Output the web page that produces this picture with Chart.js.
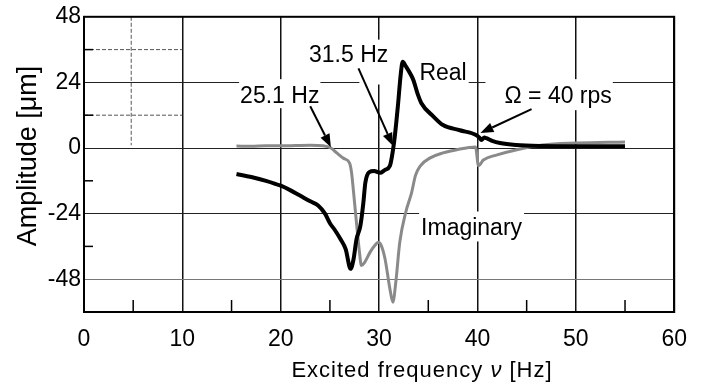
<!DOCTYPE html>
<html><head><meta charset="utf-8">
<script src="https://cdn.jsdelivr.net/npm/chart.js@4/dist/chart.umd.min.js"></script>
<style>html,body{margin:0;padding:0;background:#fff;}#wrap{width:701px;height:387px;}</style>
</head><body><div id="wrap"><canvas id="c" width="701" height="387"></canvas></div>
<script>
// ---- data ----
const realFreq = [15.5,17,18.5,20,21,22,23,23.8,24.5,25,25.5,26.1,26.6,27.1,27.4,27.7,28.1,28.4,28.6,29.0,29.5,30.1,30.6,31.1,31.4,31.6,31.9,32.2,32.4,32.7,33.2,33.5,33.9,34.3,35.5,36.5,38.2,39.9,40.2,40.4,40.7,40.9,41.5,42.3,43.9,46.6,50,55];
const realAmp  = [-9.5,-10.6,-12,-13.8,-15.5,-17.5,-19.5,-21,-24,-27.5,-30,-33.5,-37,-44.2,-40.7,-33.4,-28.4,-20,-12.7,-8.8,-8.4,-9.1,-8,-6.5,-1,4.4,15,27,31.6,30,27,24.7,20,16.4,11.6,8.4,6.5,4.7,3.8,2.9,3.8,3.6,2.6,1.8,1.1,0.7,0.6,0.6];
const imagFreq = [15.5,17,18.5,20,21.5,23,24.3,25.1,25.7,26.4,27.0,27.2,27.4,27.6,27.8,28.0,28.2,28.5,29.1,29.6,29.9,30.2,30.6,31.1,31.4,31.7,32.1,32.7,33.3,33.7,34.2,35.2,36.5,37.8,39.8,40.1,40.6,42,43.9,46.6,50,55];
const imagAmp  = [0.7,0.6,0.8,0.8,0.9,1.0,0.8,0,-1.8,-3.8,-5.5,-9,-16,-23.6,-31,-38,-43,-42,-38,-35.5,-34.5,-35.5,-40.5,-51.6,-56.4,-49,-34.5,-23.6,-16.4,-10,-6.5,-3.6,-1.8,-0.7,0.4,-6.5,-4.4,-2.5,-0.7,1.1,1.8,2.2];
const xTickValues = [0,10,20,30,40,50,60];
const yTickValues = [48,24,0,-24,-48];
const xMinorTicks = [5,15,25,35,45,55];
const yMinorTicks = [36,12,-12,-36];
const labelTexts = ['25.1 Hz','31.5 Hz','Real','\u03A9 = 40 rps','Imaginary'];
const xTitleParts = ['Excited frequency ', '\u03BD', ' [Hz]'];
const yTitleText = 'Amplitude [\u03BCm]';

// ---- layout of annotations (data coords for anchor) ----
const FONT = "'Liberation Sans', Arial, sans-serif";
const labelLayout = [
  {x:19.9, y:16.4, padL:1, padR:1, padT:8, padB:5},
  {x:26.9, y:31.6, padL:2, padR:2, padT:6, padB:5},
  {x:36.5, y:24.7, padL:60, padR:2, padT:6, padB:4},
  {x:48.2, y:16.4, padL:19, padR:1, padT:8, padB:7},
  {x:39.4, y:-32,  padL:2, padR:2, padT:8, padB:6}
];
const arrowLayout = [
  {x1:23.0, y1:15.3, x2:25.1, y2:0.3},
  {x1:27.9, y1:29.1, x2:31.4, y2:0.8},
  {x1:45.5, y1:14.2, x2:40.3, y2:5.5}
];
const dashedGuides = [
  {x1:0, y1:36, x2:10, y2:36},
  {x1:0, y1:12, x2:10, y2:12},
  {x1:4.8, y1:48, x2:4.8, y2:1}
];

const pts = (xs, ys) => xs.map((x,i)=>({x:x, y:ys[i]}));

const decor = {
  id:'decor',
  beforeDatasetsDraw(chart){
    const ctx = chart.ctx, xs = chart.scales.x, ys = chart.scales.y, a = chart.chartArea;
    ctx.save();
    ctx.strokeStyle = '#555'; ctx.lineWidth = 1; ctx.setLineDash([4,2]);
    dashedGuides.forEach(g=>{
      ctx.beginPath();
      ctx.moveTo(xs.getPixelForValue(g.x1), ys.getPixelForValue(g.y1));
      ctx.lineTo(xs.getPixelForValue(g.x2), ys.getPixelForValue(g.y2));
      ctx.stroke();
    });
    ctx.setLineDash([]);
    ctx.strokeStyle = '#000'; ctx.lineWidth = 1.5;
    xMinorTicks.forEach(v=>{
      const px = xs.getPixelForValue(v);
      ctx.beginPath(); ctx.moveTo(px, a.bottom); ctx.lineTo(px, a.bottom-12); ctx.stroke();
    });
    yMinorTicks.forEach(v=>{
      const py = ys.getPixelForValue(v);
      ctx.beginPath(); ctx.moveTo(a.left, py); ctx.lineTo(a.left+9, py); ctx.stroke();
    });
    ctx.font = '23px ' + FONT;
    const capH = 16;
    labelTexts.forEach((t,i)=>{
      const L = labelLayout[i];
      const w = ctx.measureText(t).width;
      const cx = xs.getPixelForValue(L.x), by = ys.getPixelForValue(L.y);
      ctx.fillStyle = '#fff';
      ctx.fillRect(cx - w/2 - L.padL, by - capH - L.padT, w + L.padL + L.padR, capH + L.padT + L.padB);
    });
    ctx.restore();
  },
  afterDatasetsDraw(chart){
    const ctx = chart.ctx, xs = chart.scales.x, ys = chart.scales.y, a = chart.chartArea;
    ctx.save();
    ctx.strokeStyle = '#000'; ctx.lineWidth = 2;
    ctx.strokeRect(a.left, a.top, a.right-a.left, a.bottom-a.top);
    ctx.font = '23px ' + FONT; ctx.fillStyle = '#000';
    ctx.textAlign = 'center'; ctx.textBaseline = 'alphabetic';
    labelTexts.forEach((t,i)=>{
      const L = labelLayout[i];
      ctx.fillText(t, xs.getPixelForValue(L.x), ys.getPixelForValue(L.y));
    });
    ctx.strokeStyle = '#000'; ctx.fillStyle = '#000'; ctx.lineWidth = 2;
    arrowLayout.forEach(r=>{
      const x1 = xs.getPixelForValue(r.x1), y1 = ys.getPixelForValue(r.y1);
      const x2 = xs.getPixelForValue(r.x2), y2 = ys.getPixelForValue(r.y2);
      const ang = Math.atan2(y2-y1, x2-x1), hl = 13, hw = 5;
      const bx = x2 - hl*Math.cos(ang), by = y2 - hl*Math.sin(ang);
      ctx.beginPath(); ctx.moveTo(x1,y1); ctx.lineTo(bx,by); ctx.stroke();
      ctx.beginPath();
      ctx.moveTo(x2,y2);
      ctx.lineTo(bx + hw*Math.sin(ang), by - hw*Math.cos(ang));
      ctx.lineTo(bx - hw*Math.sin(ang), by + hw*Math.cos(ang));
      ctx.closePath(); ctx.fill();
    });
    ctx.textAlign = 'left';
    ctx.letterSpacing = '1px';
    const fN = '22px ' + FONT, fI = 'italic 22px ' + FONT;
    const fonts = [fN, fI, fN];
    let total = 0;
    const widths = xTitleParts.map((p,i)=>{ctx.font = fonts[i]; const w = ctx.measureText(p).width; total += w; return w;});
    let tx = 422 - total/2;
    xTitleParts.forEach((p,i)=>{ctx.font = fonts[i]; ctx.fillText(p, tx, 377); tx += widths[i];});
    ctx.letterSpacing = '0px';
    ctx.font = '27px ' + FONT;
    ctx.translate(36, 156); ctx.rotate(-Math.PI/2);
    ctx.textAlign = 'center';
    ctx.fillText(yTitleText, 0, 0);
    ctx.restore();
  }
};

new Chart(document.getElementById('c'), {
  type:'line',
  data:{datasets:[
    {label:'Real', data:pts(realFreq, realAmp), borderColor:'#000', borderWidth:4, pointRadius:0, cubicInterpolationMode:'monotone', fill:false},
    {label:'Imaginary', data:pts(imagFreq, imagAmp), borderColor:'#8a8a8a', borderWidth:3, pointRadius:0, cubicInterpolationMode:'monotone', fill:false}
  ]},
  options:{
    responsive:false, animation:false, devicePixelRatio:1,
    layout:{padding:{top:13, right:10, left:0, bottom:0}},
    plugins:{legend:{display:false}, tooltip:{enabled:false}},
    scales:{
      x:{type:'linear', min:0, max:60,
        afterBuildTicks:s=>{s.ticks = xTickValues.map(v=>({value:v}));},
        afterFit:s=>{s.height = 75;},
        grid:{color:'#111', lineWidth:1.5, drawTicks:false},
        border:{display:false},
        ticks:{color:'#000', font:{family:FONT, size:23}, padding:14, maxRotation:0, autoSkip:false},
        title:{display:false}
      },
      y:{type:'linear', min:-60, max:48,
        afterBuildTicks:s=>{s.ticks = yTickValues.map(v=>({value:v}));},
        afterFit:s=>{s.width = 84;},
        grid:{color:c=>(c.tick && c.tick.value === -48 ? '#777' : '#222'), lineWidth:1, drawTicks:false},
        border:{display:false},
        ticks:{color:'#000', font:{family:FONT, size:23}, padding:3, autoSkip:false},
        title:{display:false}
      }
    }
  },
  plugins:[decor]
});
</script></body></html>
